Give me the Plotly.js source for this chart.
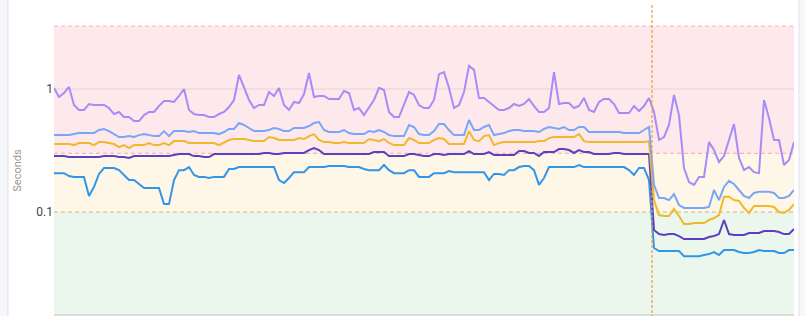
<!DOCTYPE html>
<html>
<head>
<meta charset="utf-8">
<script src="https://cdn.plot.ly/plotly-3.0.1.min.js"></script>
<style>html,body{margin:0;padding:0;background:#fff;}#chart{width:805px;height:316px;}</style>
</head>
<body>
<div id="chart"></div>
<script>
// sample index (time steps)
const n = 149;
const steps = Array.from({length: n}, (_, i) => i);

// latency series, seconds
const p99 = [1.02,0.861,0.928,1.04,0.741,0.675,0.675,0.755,0.741,0.741,0.741,0.700,0.626,0.650,0.592,0.592,0.549,0.549,0.614,0.650,
0.650,0.727,0.799,0.799,0.784,0.877,1.00,0.675,0.626,0.614,0.614,0.592,0.592,0.626,0.650,0.714,0.814,1.30,1.02,0.814,
0.700,0.741,0.741,0.945,0.877,1.02,0.741,0.675,0.784,0.769,0.910,1.35,0.861,0.877,0.877,0.829,0.829,0.829,0.963,0.928,
0.675,0.700,0.614,0.700,0.814,1.02,0.981,0.650,0.592,0.592,0.741,0.945,0.894,0.741,0.700,0.700,0.814,1.32,1.37,1.02,
0.700,0.741,0.945,1.54,1.43,0.845,0.845,0.784,0.727,0.675,0.675,0.700,0.755,0.727,0.755,0.829,0.727,0.650,0.650,0.700,
1.37,0.755,0.769,0.769,0.700,0.727,0.845,0.675,0.650,0.784,0.829,0.829,0.755,0.638,0.638,0.638,0.727,0.662,0.727,0.845,
0.650,0.385,0.407,0.510,0.894,0.614,0.228,0.175,0.166,0.193,0.193,0.370,0.319,0.255,0.285,0.385,0.519,0.275,0.219,0.232,
0.211,0.207,0.814,0.581,0.385,0.385,0.241,0.265,0.370];

const p95 = [0.422,0.422,0.422,0.422,0.430,0.438,0.438,0.438,0.438,0.464,0.473,0.455,0.430,0.407,0.407,0.414,0.407,0.422,0.430,0.422,
0.414,0.414,0.455,0.414,0.455,0.455,0.455,0.447,0.455,0.438,0.438,0.438,0.438,0.430,0.447,0.473,0.473,0.529,0.510,0.482,
0.455,0.455,0.455,0.464,0.482,0.473,0.455,0.455,0.482,0.482,0.482,0.500,0.529,0.539,0.464,0.447,0.447,0.447,0.464,0.438,
0.430,0.430,0.430,0.455,0.447,0.464,0.447,0.422,0.414,0.414,0.414,0.510,0.491,0.430,0.422,0.422,0.455,0.519,0.519,0.464,
0.422,0.422,0.422,0.560,0.464,0.464,0.491,0.510,0.422,0.430,0.438,0.455,0.464,0.464,0.455,0.455,0.455,0.447,0.473,0.491,
0.482,0.473,0.491,0.464,0.464,0.491,0.491,0.447,0.447,0.447,0.447,0.447,0.447,0.447,0.438,0.438,0.438,0.438,0.464,0.491,
0.166,0.130,0.130,0.125,0.140,0.114,0.108,0.108,0.108,0.108,0.108,0.110,0.151,0.125,0.160,0.179,0.169,0.151,0.135,0.130,
0.143,0.146,0.146,0.146,0.143,0.130,0.130,0.135,0.151];

const p90 = [0.357,0.357,0.357,0.357,0.350,0.364,0.364,0.364,0.350,0.370,0.370,0.364,0.357,0.337,0.350,0.331,0.350,0.350,0.350,0.364,
0.350,0.350,0.364,0.350,0.377,0.377,0.377,0.364,0.364,0.364,0.364,0.364,0.364,0.350,0.370,0.385,0.392,0.392,0.392,0.385,
0.377,0.377,0.377,0.407,0.399,0.385,0.385,0.385,0.385,0.399,0.392,0.414,0.430,0.385,0.370,0.370,0.364,0.364,0.370,0.364,
0.364,0.364,0.364,0.392,0.385,0.377,0.392,0.364,0.350,0.350,0.350,0.399,0.385,0.364,0.364,0.364,0.385,0.399,0.392,0.357,
0.357,0.357,0.357,0.455,0.385,0.377,0.414,0.422,0.350,0.364,0.370,0.370,0.370,0.370,0.370,0.370,0.370,0.377,0.377,0.399,
0.407,0.407,0.407,0.407,0.407,0.430,0.377,0.370,0.370,0.370,0.370,0.370,0.370,0.370,0.370,0.370,0.370,0.370,0.370,0.377,
0.125,0.0945,0.0928,0.0928,0.106,0.0928,0.0799,0.0799,0.0814,0.0814,0.0814,0.0861,0.0894,0.0945,0.133,0.133,0.125,0.123,0.108,0.0981,
0.112,0.112,0.112,0.112,0.110,0.100,0.0981,0.104,0.116];

const p75 = [0.285,0.285,0.285,0.280,0.280,0.280,0.280,0.280,0.280,0.280,0.285,0.285,0.285,0.280,0.280,0.275,0.285,0.285,0.285,0.285,
0.285,0.285,0.285,0.285,0.291,0.296,0.296,0.296,0.285,0.285,0.280,0.280,0.296,0.296,0.296,0.296,0.296,0.296,0.296,0.296,
0.296,0.296,0.302,0.302,0.296,0.296,0.302,0.302,0.302,0.302,0.302,0.319,0.331,0.319,0.296,0.296,0.296,0.296,0.296,0.296,
0.296,0.296,0.296,0.296,0.307,0.307,0.307,0.285,0.285,0.285,0.285,0.296,0.296,0.291,0.285,0.285,0.296,0.296,0.291,0.296,
0.296,0.296,0.296,0.313,0.296,0.296,0.296,0.307,0.291,0.291,0.291,0.291,0.291,0.313,0.313,0.302,0.302,0.285,0.307,0.307,
0.307,0.325,0.325,0.319,0.302,0.319,0.307,0.307,0.296,0.296,0.296,0.296,0.302,0.302,0.296,0.296,0.296,0.296,0.296,0.296,
0.0714,0.0662,0.0650,0.0662,0.0662,0.0638,0.0603,0.0603,0.0603,0.0603,0.0603,0.0626,0.0638,0.0662,0.0861,0.0662,0.0650,0.0650,0.0650,0.0675,
0.0675,0.0675,0.0700,0.0700,0.0700,0.0687,0.0662,0.0662,0.0727];

const p50 = [0.207,0.207,0.207,0.196,0.193,0.193,0.193,0.135,0.160,0.204,0.228,0.228,0.228,0.219,0.200,0.182,0.182,0.169,0.157,0.157,
0.157,0.157,0.116,0.116,0.182,0.219,0.219,0.232,0.200,0.193,0.193,0.189,0.193,0.193,0.193,0.224,0.224,0.232,0.232,0.232,
0.232,0.232,0.232,0.232,0.232,0.182,0.172,0.189,0.211,0.211,0.211,0.232,0.232,0.232,0.232,0.237,0.237,0.237,0.237,0.232,
0.232,0.232,0.224,0.219,0.219,0.219,0.241,0.219,0.207,0.207,0.207,0.219,0.219,0.193,0.193,0.193,0.207,0.207,0.207,0.215,
0.211,0.211,0.211,0.211,0.211,0.211,0.211,0.182,0.204,0.204,0.200,0.219,0.219,0.232,0.237,0.237,0.219,0.166,0.189,0.232,
0.232,0.232,0.232,0.232,0.232,0.241,0.232,0.232,0.232,0.232,0.232,0.232,0.232,0.232,0.232,0.219,0.200,0.228,0.228,0.182,
0.0510,0.0482,0.0482,0.0482,0.0482,0.0482,0.0438,0.0438,0.0438,0.0438,0.0447,0.0455,0.0473,0.0447,0.0491,0.0491,0.0491,0.0473,0.0464,0.0464,
0.0473,0.0491,0.0482,0.0482,0.0482,0.0464,0.0464,0.0491,0.0491];

// thresholds and marker
const warnLevel = 0.1;
const critLevel = 0.3;
const gridLevel = 1;
const eventAt = 119.6;
const yTicks = [0.1, 1];
const yTickText = ['0.1', '1'];

const series = [
  {name: 'p50', y: p50, color: '#3196e8'},
  {name: 'p75', y: p75, color: '#5b41c2'},
  {name: 'p90', y: p90, color: '#f0b92b'},
  {name: 'p95', y: p95, color: '#78a7f7'},
  {name: 'p99', y: p99, color: '#a68cf9'}
];

const traces = series.map(s => ({
  type: 'scatter', mode: 'lines', name: s.name, x: steps, y: s.y,
  line: {color: s.color, width: 2}, hoverinfo: 'skip'
}));

const layout = {
  width: 805, height: 316,
  margin: {l: 54, r: 11, t: 26, b: 1, pad: 0},
  paper_bgcolor: '#ffffff', plot_bgcolor: 'rgba(0,0,0,0)',
  showlegend: false,
  font: {family: 'Roboto, "Open Sans", sans-serif'},
  xaxis: {range: [0, n - 1], visible: false, showgrid: false, zeroline: false},
  yaxis: {
    type: 'log', range: [-1.837, 0.512],
    tickvals: yTicks, ticktext: yTickText,
    tickfont: {size: 12, color: '#444'},
    showgrid: false,
    zeroline: false, showline: false, ticks: '',
    title: {text: 'Seconds', font: {size: 11, color: '#999'}, standoff: 12}
  },
  shapes: [
    {type: 'rect', xref: 'paper', yref: 'y', x0: 0, x1: 1, y0: 0.001, y1: warnLevel, fillcolor: '#ebf7ec', line: {width: 0}, layer: 'below'},
    {type: 'rect', xref: 'paper', yref: 'y', x0: 0, x1: 1, y0: warnLevel, y1: critLevel, fillcolor: '#fef6e6', line: {width: 0}, layer: 'below'},
    {type: 'rect', xref: 'paper', yref: 'y', x0: 0, x1: 1, y0: critLevel, y1: 100, fillcolor: '#fde8eb', line: {width: 0}, layer: 'below'},
    {type: 'line', xref: 'paper', yref: 'y', x0: 0, x1: 1, y0: gridLevel, y1: gridLevel, line: {color: '#f2dde0', width: 2}, layer: 'below'},
    {type: 'line', xref: 'paper', yref: 'y', x0: 0, x1: 1, y0: warnLevel, y1: warnLevel, line: {color: '#c5c07a', width: 1, dash: '4px,3px'}, layer: 'below'},
    {type: 'line', xref: 'paper', yref: 'y', x0: 0, x1: 1, y0: critLevel, y1: critLevel, line: {color: '#f3aba4', width: 1, dash: '4px,3px'}, layer: 'below'},
    {type: 'line', xref: 'paper', yref: 'paper', x0: 0, x1: 1, y0: 1, y1: 1, line: {color: '#f6b6b9', width: 1, dash: '4px,3px'}, layer: 'below'},
    {type: 'line', xref: 'paper', yref: 'paper', x0: 0, x1: 1, y0: 0, y1: 0, line: {color: '#b9c4ba', width: 1}, layer: 'above'},
    {type: 'line', xref: 'x', yref: 'paper', x0: eventAt, x1: eventAt, y0: -0.01, y1: 1.073, line: {color: '#f59a35', width: 1.2, dash: '3px,2px'}, layer: 'above'},
    {type: 'rect', xref: 'paper', yref: 'paper', x0: -0.08, x1: -0.0622, y0: -0.02, y1: 1.1, fillcolor: '#f6f7fb', line: {width: 0}, layer: 'below'},
    {type: 'line', xref: 'paper', yref: 'paper', x0: -0.0622, x1: -0.0622, y0: -0.02, y1: 1.1, line: {color: '#dfe2ee', width: 1}, layer: 'above'},
    {type: 'rect', xref: 'paper', yref: 'paper', x0: 1.0068, x1: 1.02, y0: -0.02, y1: 1.1, fillcolor: '#f6f7fb', line: {width: 0}, layer: 'below'},
    {type: 'line', xref: 'paper', yref: 'paper', x0: 1.0068, x1: 1.0068, y0: -0.02, y1: 1.1, line: {color: '#dfe2ee', width: 1}, layer: 'above'}
  ]
};

Plotly.newPlot('chart', traces, layout, {staticPlot: true, displayModeBar: false});
</script>
</body>
</html>
